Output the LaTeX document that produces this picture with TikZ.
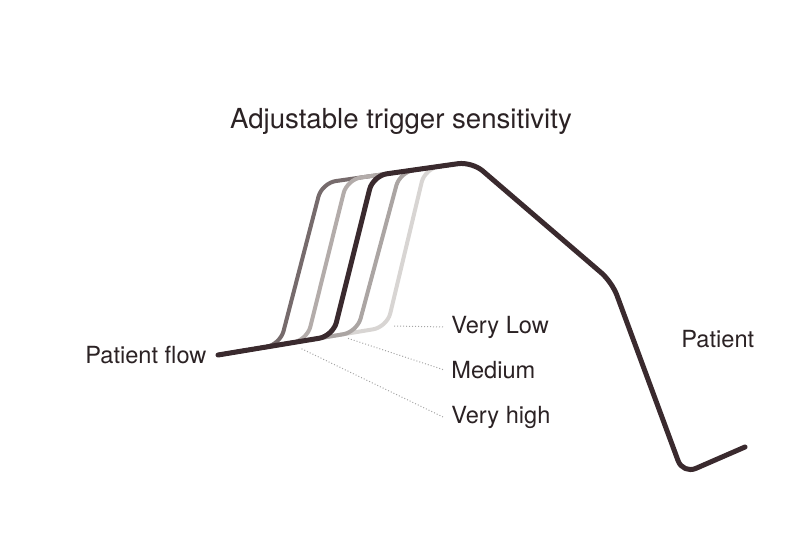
\documentclass[tikz,border=0pt]{standalone}
\usepackage{fontspec}
\setmainfont{TeX Gyre Heros}
\usepackage{xcolor}

\definecolor{inkdark}{HTML}{3A2A2E}
\definecolor{inkone}{HTML}{766B6C}
\definecolor{inktwo}{HTML}{B3ACAA}
\definecolor{inkfour}{HTML}{ABA5A3}
\definecolor{inkfive}{HTML}{D8D5D3}
\definecolor{inktext}{HTML}{2B2224}

\begin{document}
\begin{tikzpicture}[x=0.5pt,y=-0.5pt,
    trace/.style={line width=2pt,rounded corners=7pt,line join=round},
    lbl/.style={font=\fontsize{11.8}{14}\selectfont,text=inktext,inner sep=0pt},
    leader/.style={draw=black!35,densely dotted,line width=0.5pt}]
    \useasboundingbox (0,0) rectangle (800,553);

    \coordinate (b0) at (218,355);
    \coordinate (c1b) at (280,344.73);
    \coordinate (c2b) at (307,340.25);
    \coordinate (c3b) at (333,335.94);
    \coordinate (c4b) at (357,331.97);
    \coordinate (c5b) at (387,327);
    \coordinate (c1t) at (322,183);
    \coordinate (c2t) at (347,179.45);
    \coordinate (c3t) at (373,175.76);
    \coordinate (c4t) at (400,171.93);
    \coordinate (c5t) at (425,168.38);
    \coordinate (tj) at (450,164.84);
    \coordinate (pk) at (472,161.7);
    \coordinate (kn) at (612,282);
    \coordinate (lo) at (683,474);
    \coordinate (en) at (745,447);

    \draw[trace,color=inkfive] (b0) -- (c5b) -- (c5t) -- (tj);
    \draw[trace,color=inkfour] (b0) -- (c4b) -- (c4t) -- (tj);
    \draw[trace,color=inkone] (b0) -- (c1b) -- (c1t) -- (tj);
    \draw[trace,color=inktwo] (b0) -- (c2b) -- (c2t) -- (tj);
    \draw[trace,color=inkdark,line width=2.5pt,line cap=round] (b0) -- (c3b) -- (c3t) -- (pk) -- (kn) -- (lo) -- (en);

    \node[lbl,font=\fontsize{13.8}{16}\selectfont,anchor=base] (title) at (401,128) {Adjustable trigger sensitivity};
    \node[lbl,anchor=base west] (flow) at (85,363) {Patient flow};
    \node[lbl,anchor=base west] (vlow) at (451,333) {Very Low};
    \node[lbl,anchor=base west] (med) at (451,378) {Medium};
    \node[lbl,anchor=base west] (vhigh) at (451,423) {Very high};
    \node[lbl,anchor=base west] (pat) at (681,347) {Patient};

    \coordinate (vlpt) at (394,326);
    \coordinate (medpt) at (347,338);
    \coordinate (vhpt) at (300,348);
    \draw[leader] ([xshift=-4pt]vlow.west) -- (vlpt);
    \draw[leader] ([xshift=-4pt]med.west) -- (medpt);
    \draw[leader] ([xshift=-4pt]vhigh.west) -- (vhpt);
\end{tikzpicture}
\end{document}
